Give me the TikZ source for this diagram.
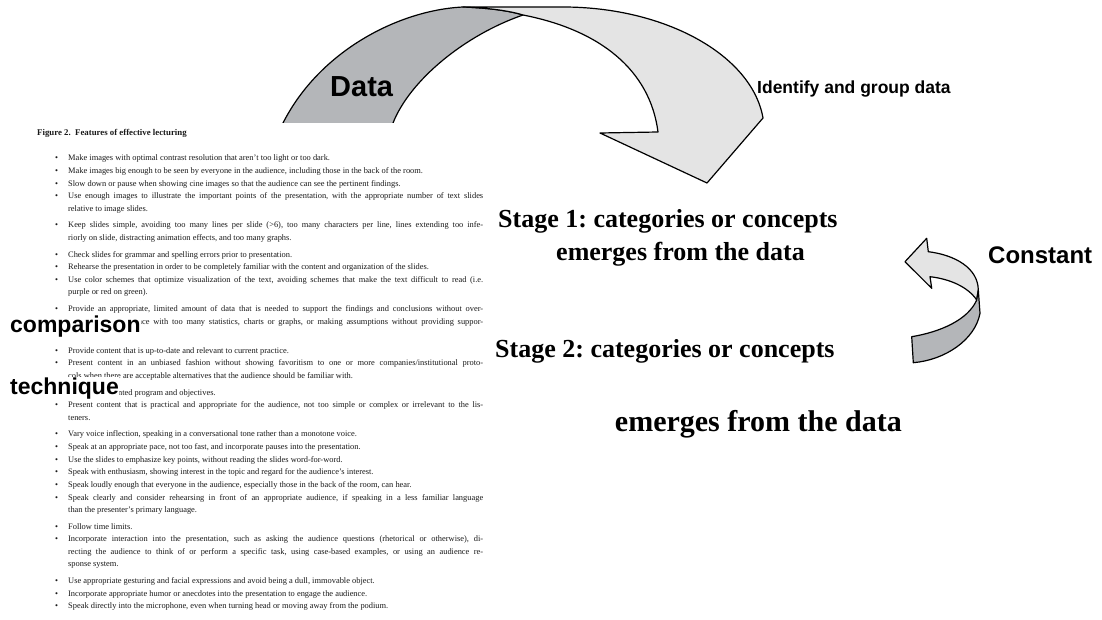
\documentclass[tikz,border=0pt]{standalone}
\usepackage{fontspec}
\setmainfont{Liberation Serif}
\newfontfamily\arial{Liberation Sans}
\definecolor{bandDark}{RGB}{180,182,185}
\definecolor{bandLight}{RGB}{228,228,228}
\newcommand\bitem[1]{\par\hangindent=13pt\hangafter=1\noindent\hbox to 13pt{\textbullet\hfil}#1\par}
\newcommand\bgap{\vspace{4pt}}
\frenchspacing
\tikzset{
  darkband/.style={fill=bandDark, draw=black, line width=1.2pt, line join=round},
  lightband/.style={fill=bandLight, draw=black, line width=1.2pt, line join=round},
  sanslabel/.style={anchor=base west, inner sep=0pt},
  stagetext/.style={anchor=base west, inner sep=0pt, font=\bfseries},
}
\begin{document}
\begin{tikzpicture}[x=1pt,y=-1pt]
\useasboundingbox (0,0) rectangle (1102,620);
% big twisted arrow
\draw[darkband] (276,140) -- (283,123) .. controls (320,50) and (400,10) .. (463,7)
   .. controls (490,8) and (510,11) .. (523,15)
   .. controls (465,35) and (410,80) .. (393,123) -- (388,140) -- cycle;
\draw[lightband] (463,7) -- (563,7) .. controls (665,7) and (752,55) .. (763,118)
   -- (707,183) -- (600,133) -- (658,132)
   .. controls (650,70) and (600,30) .. (523,15)
   .. controls (510,11) and (490,8) .. (463,7) -- cycle;
% embedded figure (white page)
\fill[white] (0,123) rectangle (490,620);
\node[anchor=base west, inner sep=0pt, text=black!90, font=\bfseries\fontsize{8.8}{10}\selectfont] (caption) at (37,136) {Figure 2.\ \ Features of effective lecturing};
\node[anchor=base west, inner sep=0pt, text=black!90] (list) at (55,161) {\begin{minipage}[t]{428pt}\fontsize{8.4}{12.6}\selectfont\parindent=0pt\parskip=0pt
\bitem{Make images with optimal contrast resolution that aren't too light or too dark.}
\bitem{Make images big enough to be seen by everyone in the audience, including those in the back of the room.}
\bitem{Slow down or pause when showing cine images so that the audience can see the pertinent findings.}
\bitem{Use enough images to illustrate the important points of the presentation, with the appropriate number of text slides\linebreak relative to image slides.}\bgap
\bitem{Keep slides simple, avoiding too many lines per slide (>6), too many characters per line, lines extending too infe-\linebreak riorly on slide, distracting animation effects, and too many graphs.}\bgap
\bitem{Check slides for grammar and spelling errors prior to presentation.}
\bitem{Rehearse the presentation in order to be completely familiar with the content and organization of the slides.}
\bitem{Use color schemes that optimize visualization of the text, avoiding schemes that make the text difficult to read (i.e.\linebreak purple or red on green).}\bgap
\bitem{Provide an appropriate, limited amount of data that is needed to support the findings and conclusions without over-\linebreak whelming the audience with too many statistics, charts or graphs, or making assumptions without providing suppor-\linebreak tive data.}\bgap
\bitem{Provide content that is up-to-date and relevant to current practice.}
\bitem{Present content in an unbiased fashion without showing favoritism to one or more companies/institutional proto-\linebreak cols when there are acceptable alternatives that the audience should be familiar with.}\bgap
\bitem{Present an oriented program and objectives.}
\bitem{Present content that is practical and appropriate for the audience, not too simple or complex or irrelevant to the lis-\linebreak teners.}\bgap
\bitem{Vary voice inflection, speaking in a conversational tone rather than a monotone voice.}
\bitem{Speak at an appropriate pace, not too fast, and incorporate pauses into the presentation.}
\bitem{Use the slides to emphasize key points, without reading the slides word-for-word.}
\bitem{Speak with enthusiasm, showing interest in the topic and regard for the audience's interest.}
\bitem{Speak loudly enough that everyone in the audience, especially those in the back of the room, can hear.}
\bitem{Speak clearly and consider rehearsing in front of an appropriate audience, if speaking in a less familiar language\linebreak than the presenter's primary language.}\bgap
\bitem{Follow time limits.}
\bitem{Incorporate interaction into the presentation, such as asking the audience questions (rhetorical or otherwise), di-\linebreak recting the audience to think of or perform a specific task, using case-based examples, or using an audience re-\linebreak sponse system.}\bgap
\bitem{Use appropriate gesturing and facial expressions and avoid being a dull, immovable object.}
\bitem{Incorporate appropriate humor or anecdotes into the presentation to engage the audience.}
\bitem{Speak directly into the microphone, even when turning head or moving away from the podium.}
\end{minipage}};
% overlay labels
\node[sanslabel, fill=white, font=\arial\bfseries\fontsize{23}{23}\selectfont] (comparison) at (10,332) {comparison};
\node[sanslabel, fill=white, font=\arial\bfseries\fontsize{23}{23}\selectfont] (technique) at (10,394) {technique};
\node[sanslabel, font=\arial\bfseries\fontsize{29}{29}\selectfont] (data) at (330,97) {Data};
\node[sanslabel, font=\arial\bfseries\fontsize{17.5}{17.5}\selectfont] (identify) at (757,94) {Identify and group data};
\node[sanslabel, font=\arial\bfseries\fontsize{24}{24}\selectfont] (constant) at (988,263) {Constant};
% stage texts
\node[stagetext, font=\bfseries\fontsize{26}{26}\selectfont] (s1a) at (498,228) {Stage 1: categories or concepts};
\node[stagetext, font=\bfseries\fontsize{26}{26}\selectfont] (s1b) at (556,261) {emerges from the data};
\node[stagetext, font=\bfseries\fontsize{26}{26}\selectfont] (s2a) at (495,357) {Stage 2: categories or concepts};
\node[anchor=base east, inner sep=0pt, font=\bfseries\fontsize{30}{30}\selectfont] (s2b) at (902,431) {emerges from the data};
% small constant-comparison arrow
\draw[lightband] (905,261.7) -- (926.7,238.3) -- (928.3,251.7)
   .. controls (955,255) and (978,268) .. (978.3,290) -- (976.7,300)
   .. controls (968,287) and (950,279) .. (930,276.7) -- (931.7,288.3) -- cycle;
\draw[darkband] (911.7,336.7) .. controls (940,332) and (968,320) .. (976.7,300)
   -- (978.3,290) -- (980,313.3) .. controls (975,340) and (945,360) .. (913.3,362.7) -- cycle;
\end{tikzpicture}
\end{document}
